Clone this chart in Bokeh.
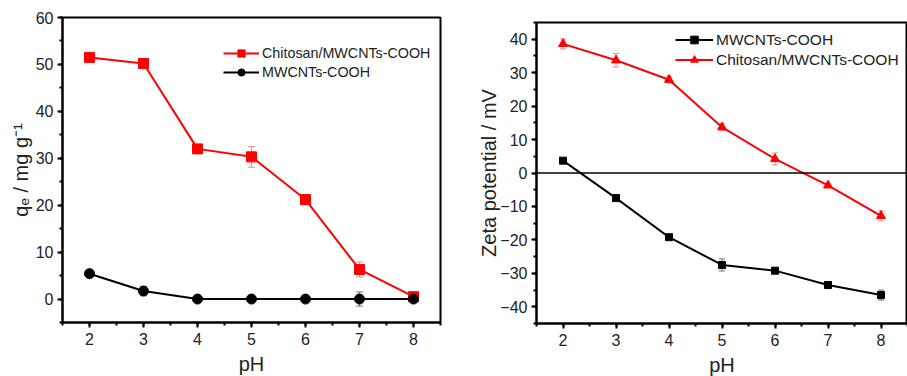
from bokeh.plotting import figure
from bokeh.layouts import row, column
from bokeh.models import (Range1d, SingleIntervalTicker, ColumnDataSource, Whisker, TeeHead,
                          Span, Legend, LegendItem)
from bokeh.embed import file_html
from bokeh.resources import INLINE

# ---------------- data ----------------
ph = [2, 3, 4, 5, 6, 7, 8]

# left panel: adsorption capacity qe (mg/g)
qe_chitosan = [51.5, 50.2, 32.0, 30.3, 21.2, 6.3, 0.5]
qe_chitosan_err = [0.6, 1.0, 0.6, 2.2, 0.5, 1.6, 0.5]
qe_mwcnt = [5.4, 1.7, 0.0, 0.0, 0.0, 0.0, 0.0]
qe_mwcnt_err = [0.4, 1.0, 0.3, 0.3, 0.3, 1.5, 0.3]

# right panel: zeta potential (mV)
zeta_mwcnt = [3.7, -7.5, -19.2, -27.5, -29.2, -33.5, -36.5]
zeta_mwcnt_err = [0.5, 0.6, 0.6, 1.8, 0.8, 0.6, 1.5]
zeta_chitosan = [38.6, 33.7, 27.9, 13.7, 4.2, -3.7, -12.8]
zeta_chitosan_err = [1.5, 2.0, 1.0, 1.0, 1.8, 0.5, 1.5]

FONT = "Liberation Sans"
TXT = "#222222"
RED = "#ff0000"
ERR_RED = "#f08a8a"


def style(p, ytick_interval):
    p.outline_line_color = "black"
    p.outline_line_width = 2
    p.xgrid.visible = False
    p.ygrid.visible = False
    p.background_fill_color = "white"
    p.border_fill_color = "white"
    p.xaxis.ticker = SingleIntervalTicker(interval=1, num_minor_ticks=2)
    p.yaxis.ticker = SingleIntervalTicker(interval=ytick_interval, num_minor_ticks=2)
    for ax in (p.xaxis[0], p.yaxis[0]):
        ax.axis_line_color = "black"
        ax.axis_line_width = 2
        ax.major_tick_line_color = "black"
        ax.major_tick_line_width = 2
        ax.minor_tick_line_color = "black"
        ax.minor_tick_line_width = 2
        ax.major_tick_out = 5
        ax.major_tick_in = 0
        ax.minor_tick_out = 3
        ax.minor_tick_in = 0
        ax.major_label_text_font = FONT
        ax.major_label_text_font_size = "16px"
        ax.major_label_text_color = TXT
        ax.axis_label_text_font = FONT
        ax.axis_label_text_font_size = "20px"
        ax.axis_label_text_font_style = "normal"
        ax.axis_label_text_color = TXT
    p.xaxis.major_label_standoff = 5
    p.yaxis.major_label_standoff = 4
    p.xaxis.axis_label_standoff = 5
    p.yaxis.axis_label_standoff = 1


def whisker(p, x, y, err, color, size):
    lo = [a - b for a, b in zip(y, err)]
    hi = [a + b for a, b in zip(y, err)]
    src = ColumnDataSource(dict(x=x, lo=lo, hi=hi))
    w = Whisker(base="x", lower="lo", upper="hi", source=src, line_color=color, line_width=1,
                upper_head=TeeHead(size=size, line_color=color, line_width=1),
                lower_head=TeeHead(size=size, line_color=color, line_width=1))
    p.add_layout(w)


# ---------------- left panel ----------------
p1 = figure(frame_width=378, frame_height=305, min_border_left=62, min_border_right=15,
            min_border_top=17, min_border_bottom=54,
            x_range=Range1d(1.5, 8.5), y_range=Range1d(-5, 60),
            output_backend="svg", toolbar_location=None)
style(p1, 10)
p1.xaxis.axis_label = "pH"
p1.yaxis.axis_label = "qₑ / mg g⁻¹"

whisker(p1, ph, qe_chitosan, qe_chitosan_err, ERR_RED, 7)
whisker(p1, ph, qe_mwcnt, qe_mwcnt_err, "#777777", 7)
l1 = p1.line(ph, qe_chitosan, line_color=RED, line_width=2)
m1 = p1.scatter(ph, qe_chitosan, marker="square", size=10, fill_color=RED, line_color=RED)
l2 = p1.line(ph, qe_mwcnt, line_color="black", line_width=2)
m2 = p1.scatter(ph, qe_mwcnt, marker="circle", size=10, fill_color="black", line_color="black")

leg1 = Legend(items=[LegendItem(label="Chitosan/MWCNTs-COOH", renderers=[l1, m1]),
                     LegendItem(label="MWCNTs-COOH", renderers=[l2, m2])],
              location=(161, 241), border_line_color=None, background_fill_alpha=0,
              padding=2, margin=0, spacing=1, glyph_width=36, glyph_height=18,
              label_standoff=3, label_text_font=FONT, label_text_font_size="14.3px",
              label_text_color=TXT, label_height=18)
p1.add_layout(leg1)

# ---------------- right panel ----------------
p2 = figure(frame_width=371, frame_height=301, min_border_left=81, min_border_right=0,
            min_border_top=22, min_border_bottom=53,
            x_range=Range1d(1.5, 8.5), y_range=Range1d(-45, 45),
            output_backend="svg", toolbar_location=None)
style(p2, 10)
p2.xaxis.axis_label = "pH"
p2.yaxis.axis_label = "Zeta potential / mV"
p2.yaxis.axis_label_standoff = -3

p2.add_layout(Span(location=0, dimension="width", line_color="black", line_width=1.5))
whisker(p2, ph, zeta_mwcnt, zeta_mwcnt_err, "#777777", 6)
whisker(p2, ph, zeta_chitosan, zeta_chitosan_err, ERR_RED, 6)
r1 = p2.line(ph, zeta_mwcnt, line_color="black", line_width=2)
s1 = p2.scatter(ph, zeta_mwcnt, marker="square", size=7, fill_color="black", line_color="black")
r2 = p2.line(ph, zeta_chitosan, line_color=RED, line_width=2)
s2 = p2.scatter(ph, zeta_chitosan, marker="triangle", size=9, fill_color=RED, line_color=RED)

leg2 = Legend(items=[LegendItem(label="MWCNTs-COOH", renderers=[r1, s1]),
                     LegendItem(label="Chitosan/MWCNTs-COOH", renderers=[r2, s2])],
              location=(139, 254), border_line_color=None, background_fill_alpha=0,
              padding=2, margin=0, spacing=1, glyph_width=38, glyph_height=19,
              label_standoff=3, label_text_font=FONT, label_text_font_size="15.5px",
              label_text_color=TXT, label_height=19)
p2.add_layout(leg2)

layout = row(column(p1), column(p2), spacing=0)
open("out.html", "w").write(file_html(layout, INLINE))
